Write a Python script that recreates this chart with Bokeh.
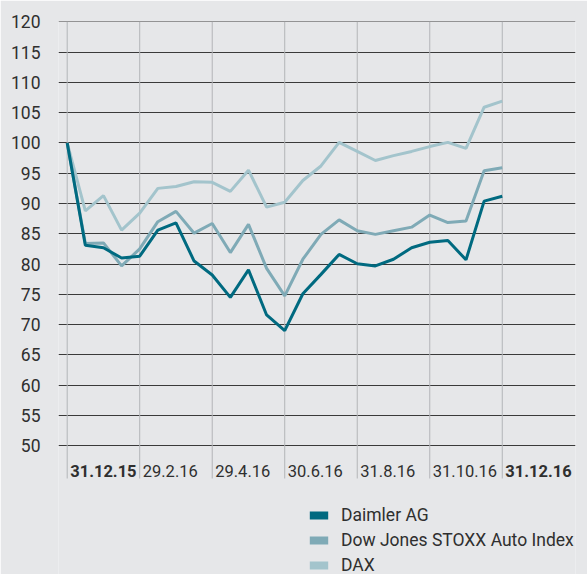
from bokeh.plotting import figure
from bokeh.models import ColumnDataSource, FixedTicker, Legend, LegendItem
from bokeh.core.properties import value
from bokeh.embed import file_html
from bokeh.resources import INLINE

# --- data (semi-monthly index values, 31.12.15 = 100) ---
daimler = [100, 83.1, 82.7, 81.0, 81.3, 85.6, 86.8, 80.5, 78.2, 74.5, 79.05, 71.6, 69.0,
           75.1, 78.3, 81.6, 80.05, 79.7, 80.8, 82.7, 83.6, 83.9, 80.7, 90.4, 91.2]
stoxx = [100, 83.4, 83.5, 79.7, 82.5, 87.0, 88.7, 85.1, 86.7, 81.9, 86.55, 79.3, 74.75,
         80.8, 84.9, 87.3, 85.5, 84.9, 85.5, 86.1, 88.1, 86.85, 87.1, 95.4, 95.9]
dax = [100, 88.8, 91.3, 85.6, 88.4, 92.5, 92.8, 93.6, 93.5, 92.0, 95.5, 89.4, 90.2,
       93.8, 96.2, 100.1, 98.6, 97.1, 97.9, 98.6, 99.4, 100.1, 99.1, 105.9, 106.9]
idx = list(range(len(daimler)))

series_names = ["Daimler AG", "Dow Jones STOXX Auto Index", "DAX"]
series_colors = ["#006a80", "#7faab6", "#a3c4cc"]

date_pos = [0, 4, 8, 12, 16, 20, 24]
date_labels = ["31.12.15", "29.2.16", "29.4.16", "30.6.16", "31.8.16", "31.10.16", "31.12.16"]
date_bold = [True, False, False, False, False, False, True]
y_ticks = list(range(50, 125, 5))
y_top, y_grid_bottom = 120, 44.6

BG = "#e6e7e9"
FONT = "Roboto"
TXT = "#2f2f2f"

p = figure(width=587, height=574, output_backend="svg", toolbar_location=None,
           x_range=(-0.48, 28.04), y_range=(28.75, 120.05),
           min_border_left=58, min_border_right=12, min_border_top=21, min_border_bottom=0,
           background_fill_color=BG, border_fill_color=BG, outline_line_color=None)

p.xaxis.visible = False
p.xgrid.visible = False
p.yaxis.ticker = FixedTicker(ticks=y_ticks)
p.yaxis.axis_line_color = None
p.yaxis.major_tick_line_color = None
p.yaxis.minor_tick_line_color = None
p.yaxis.major_label_standoff = 12
p.yaxis.major_label_text_font = FONT
p.yaxis.major_label_text_font_size = "17.5px"
p.yaxis.major_label_text_color = TXT

p.ygrid.ticker = FixedTicker(ticks=y_ticks)
p.ygrid.grid_line_color = "#3a3a3a"
p.ygrid.grid_line_width = 1

# vertical period lines
p.segment(x0=date_pos, y0=[y_grid_bottom] * len(date_pos), x1=date_pos, y1=[y_top] * len(date_pos),
          line_color="#b3b5b8", line_width=1)

for ys, c in zip([dax, stoxx, daimler], series_colors[::-1]):
    p.line(idx, ys, line_color=c, line_width=3)

# date labels
norm_src = ColumnDataSource(dict(x=[d for d, b in zip(date_pos, date_bold) if not b],
                                 t=[l for l, b in zip(date_labels, date_bold) if not b]))
bold_src = ColumnDataSource(dict(x=[d for d, b in zip(date_pos, date_bold) if b],
                                 t=[l for l, b in zip(date_labels, date_bold) if b]))
for src, style in [(norm_src, "normal"), (bold_src, "bold")]:
    p.text(x="x", y=45.9, text="t", source=src, x_offset=3, text_align="left",
           text_baseline="middle", text_font=value(FONT), text_font_size="16.5px",
           text_font_style=style, text_color=TXT)

# legend with block swatches (swatch renderers sit outside the visible range)
items = []
for name, c in zip(series_names, series_colors):
    r = p.rect(x=[-50], y=[0], width=1, height=1, fill_color=c, line_color=None)
    items.append(LegendItem(label=name, renderers=[r]))
legend = Legend(items=items, location=(249, -1), glyph_width=23, glyph_height=10,
                label_height=18, spacing=5, label_standoff=11, padding=0, margin=0,
                border_line_color=None, background_fill_alpha=0,
                label_text_font=FONT, label_text_font_size="17.5px", label_text_color=TXT)
p.add_layout(legend, "center")

open("out.html", "w").write(file_html(p, INLINE))
